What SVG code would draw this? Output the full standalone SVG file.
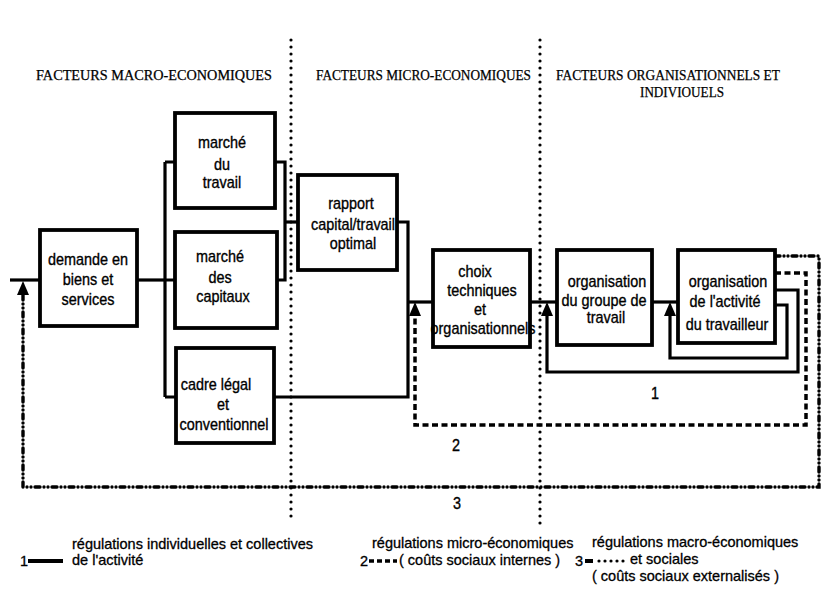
<svg xmlns="http://www.w3.org/2000/svg" width="827" height="591" viewBox="0 0 827 591">
  <style>
    .box { fill: #fff; stroke: #000; stroke-width: 3.8; }
    .ln { fill: none; stroke: #000; stroke-width: 3.2; }
    .sep { fill: none; stroke: #000; stroke-width: 3.2; stroke-dasharray: 0 7; stroke-linecap: round; }
    .l2 { fill: none; stroke: #000; stroke-width: 3.5; stroke-dasharray: 6 3.5; }
    .l3 { fill: none; stroke: #000; stroke-width: 3.4; stroke-dasharray: 5 4 0 4 0 4; stroke-linecap: round; }
    .arr { fill: #000; }
    .t { font-family: "Liberation Sans", Arial, sans-serif; font-size: 16px; fill: #000; stroke: #000; stroke-width: 0.35; }
    .lg { font-family: "Liberation Sans", Arial, sans-serif; font-size: 14.5px; fill: #000; stroke: #000; stroke-width: 0.3; }
    .c { text-anchor: middle; }
    .h { font-family: "Liberation Serif", "Times New Roman", serif; font-size: 14px; fill: #000; stroke: #000; stroke-width: 0.25; }
  </style>

  <!-- column separators -->
  <g id="separators">
    <path class="sep" d="M291,40 V520"/>
    <path class="sep" d="M540,40 V528"/>
  </g>

  <!-- column headings -->
  <g id="headings">
    <text class="h" x="36" y="80" textLength="236" lengthAdjust="spacingAndGlyphs">FACTEURS MACRO-ECONOMIQUES</text>
    <text class="h" x="316" y="80" textLength="215" lengthAdjust="spacingAndGlyphs">FACTEURS MICRO-ECONOMIQUES</text>
    <text class="h" x="556" y="80" textLength="224" lengthAdjust="spacingAndGlyphs">FACTEURS  ORGANISATIONNELS ET</text>
    <text class="h" x="640" y="97" textLength="84" lengthAdjust="spacingAndGlyphs">INDIVIOUELS</text>
  </g>

  <!-- connectors -->
  <g id="connectors">
    <!-- main flow -->
    <path class="ln" d="M10,280 H40"/>
    <path class="ln" d="M137,280 H165"/>
    <path class="ln" d="M165,162 V397"/>
    <path class="ln" d="M165,162 H175 M165,280 H175 M165,397 H176"/>
    <path class="ln" d="M275,162 H285 V280 H277"/>
    <path class="ln" d="M285,222 H298"/>
    <path class="ln" d="M397,222 H408 V397 H274"/>
    <path class="ln" d="M408,302 H433"/>
    <path class="ln" d="M530,302 H557"/>
    <path class="ln" d="M652,302 H678"/>

    <!-- loop 1 : individual and collective regulation -->
    <path class="ln" d="M775,290 H798 V372 H547 V312"/>
    <path class="ln" d="M775,305 H787 V358 H670 V312"/>
    <polygon class="arr" points="547,302 541,316 553,316"/>
    <polygon class="arr" points="670,302 664,316 676,316"/>

    <!-- loop 2 : micro-economic regulation -->
    <path class="l2" d="M775,273 H806 V425 H415 V314"/>
    <polygon class="arr" points="415,302 409,316 421,316"/>

    <!-- loop 3 : macro-economic and social regulation -->
    <path class="l3" d="M775,256 H819 V487 H23 V294"/>
    <polygon class="arr" points="23,281 17,295 29,295"/>
  </g>

  <g id="demande">
    <rect class="box" x="40" y="230" width="97" height="96"/>
    <text class="t c" transform="translate(88,265) scale(0.9,1)">demande en</text>
    <text class="t c" transform="translate(88,285) scale(0.9,1)">biens  et</text>
    <text class="t c" transform="translate(88,305) scale(0.9,1)">services</text>
  </g>

  <g id="marche-travail">
    <rect class="box" x="175" y="113" width="100" height="95"/>
    <text class="t c" transform="translate(222,148) scale(0.9,1)">marché</text>
    <text class="t c" transform="translate(222,170) scale(0.9,1)">du</text>
    <text class="t c" transform="translate(222,188) scale(0.9,1)">travail</text>
  </g>

  <g id="marche-capitaux">
    <rect class="box" x="175" y="232" width="102" height="96"/>
    <text class="t c" transform="translate(220,262) scale(0.9,1)">marché</text>
    <text class="t c" transform="translate(220,283) scale(0.9,1)">des</text>
    <text class="t c" transform="translate(223,302) scale(0.9,1)">capitaux</text>
  </g>

  <g id="cadre">
    <rect class="box" x="176" y="348" width="98" height="95"/>
    <text class="t c" transform="translate(216,390) scale(0.9,1)">cadre légal</text>
    <text class="t c" transform="translate(223,410) scale(0.9,1)">et</text>
    <text class="t c" transform="translate(224,430) scale(0.9,1)">conventionnel</text>
  </g>

  <g id="rapport">
    <rect class="box" x="298" y="175" width="99" height="95"/>
    <text class="t c" transform="translate(351,209) scale(0.9,1)">rapport</text>
    <text class="t c" transform="translate(353,230) scale(0.9,1)">capital/travail</text>
    <text class="t c" transform="translate(353,249) scale(0.9,1)">optimal</text>
  </g>

  <g id="choix">
    <rect class="box" x="433" y="250" width="97" height="97"/>
    <text class="t c" transform="translate(475,277) scale(0.9,1)">choix</text>
    <text class="t c" transform="translate(482,296) scale(0.9,1)">techniques</text>
    <text class="t c" transform="translate(480,315) scale(0.9,1)">et</text>
    <text class="t c" transform="translate(483,334) scale(0.9,1)">organisationnels</text>
  </g>

  <g id="organisation-groupe">
    <rect class="box" x="557" y="250" width="95" height="95"/>
    <text class="t c" transform="translate(607,287) scale(0.9,1)">organisation</text>
    <text class="t c" transform="translate(604,306) scale(0.9,1)">du groupe de</text>
    <text class="t c" transform="translate(606,323) scale(0.9,1)">travail</text>
  </g>

  <g id="organisation-activite">
    <rect class="box" x="678" y="250" width="97" height="93"/>
    <text class="t c" transform="translate(728,287) scale(0.9,1)">organisation</text>
    <text class="t c" transform="translate(725,307) scale(0.9,1)">de l'activité</text>
    <text class="t c" transform="translate(727,330) scale(0.9,1)">du travailleur</text>
  </g>

  <!-- loop numbers -->
  <g id="loop-labels">
    <text class="t c" transform="translate(655,399) scale(0.9,1)">1</text>
    <text class="t c" transform="translate(456,451) scale(0.9,1)">2</text>
    <text class="t c" transform="translate(457,509) scale(0.9,1)">3</text>
  </g>

  <!-- legend -->
  <g id="legend">
    <text class="lg" x="20" y="566">1</text>
    <path class="ln" d="M28,561 H63" style="stroke-width:4"/>
    <text class="lg" x="72" y="549">régulations individuelles et collectives</text>
    <text class="lg" x="72" y="565">de l'activité</text>

    <text class="lg" x="360" y="566">2</text>
    <path class="l2" d="M369,561 H397" style="stroke-dasharray:5 3"/>
    <text class="lg" x="372" y="548">régulations micro-économiques</text>
    <text class="lg" x="399" y="565">( coûts sociaux internes )</text>

    <text class="lg" x="575" y="566">3</text>
    <path class="ln" d="M585,561 H593" style="stroke-width:4"/>
    <path class="sep" d="M599,561 H626" style="stroke-dasharray:0 6"/>
    <text class="lg" x="592" y="547">régulations macro-économiques</text>
    <text class="lg" x="630" y="564">et sociales</text>
    <text class="lg" x="592" y="581">( coûts sociaux externalisés )</text>
  </g>
</svg>
